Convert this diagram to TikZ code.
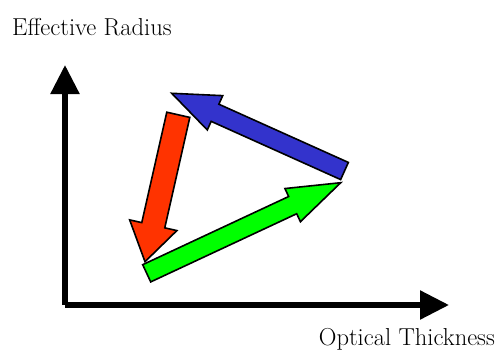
\documentclass[tikz,border=0pt]{standalone}
\usetikzlibrary{calc,arrows.meta}
\definecolor{bluearr}{RGB}{51,51,204}
\definecolor{redarr}{RGB}{255,51,0}
\definecolor{greenarr}{RGB}{0,255,0}
\tikzset{
  fatline/.style={draw=black, line width=1.6pt, line join=miter},
  axisline/.style={line width=5.5pt, line join=miter, -{Triangle[length=29pt,width=28pt]}},
  axislabel/.style={inner sep=0pt, font=\fontsize{24.5}{29}\selectfont}
}
% id, tail, tip, shaft half-width, head half-width, head length, colour
\newcommand\fatarrow[7]{%
  \coordinate (b#1) at ($(#3)!#6!(#2)$);
  \filldraw[fill=#7, fatline] ($(#2)!#4!90:(#3)$) -- ($(b#1)!#4!90:(#3)$) -- ($(b#1)!#5!90:(#3)$) -- (#3) -- ($(b#1)!#5!-90:(#3)$) -- ($(b#1)!#4!-90:(#3)$) -- ($(#2)!#4!-90:(#3)$) -- cycle;
}
\begin{document}
\begin{tikzpicture}[x=1pt,y=-1pt]
\useasboundingbox (0,0) rectangle (499,349);
% axes
\coordinate (O) at (65,305);
\coordinate (X) at (449,305);
\coordinate (Y) at (65,65);
\draw[axisline] (O) -- (Y);
\draw[axisline] (O) -- (X);
\node[axislabel, anchor=base west] (ylab) at (12,35) {Effective Radius};
\node[axislabel, anchor=base east] (xlab) at (495,345) {Optical Thickness};
% fat arrows
\coordinate (tblue) at (344.5,171);
\coordinate (pblue) at (171.7,93.3);
\coordinate (tred) at (178.3,114.8);
\coordinate (pred) at (145,261.7);
\coordinate (tgreen) at (146.7,273.3);
\coordinate (pgreen) at (340.7,182.7);
\fatarrow{blue}{tblue}{pblue}{9.4pt}{18.8pt}{47.5pt}{bluearr}
\fatarrow{red}{tred}{pred}{11.8pt}{24.2pt}{37.4pt}{redarr}
\fatarrow{green}{tgreen}{pgreen}{9.5pt}{18.3pt}{53pt}{greenarr}
\end{tikzpicture}
\end{document}
